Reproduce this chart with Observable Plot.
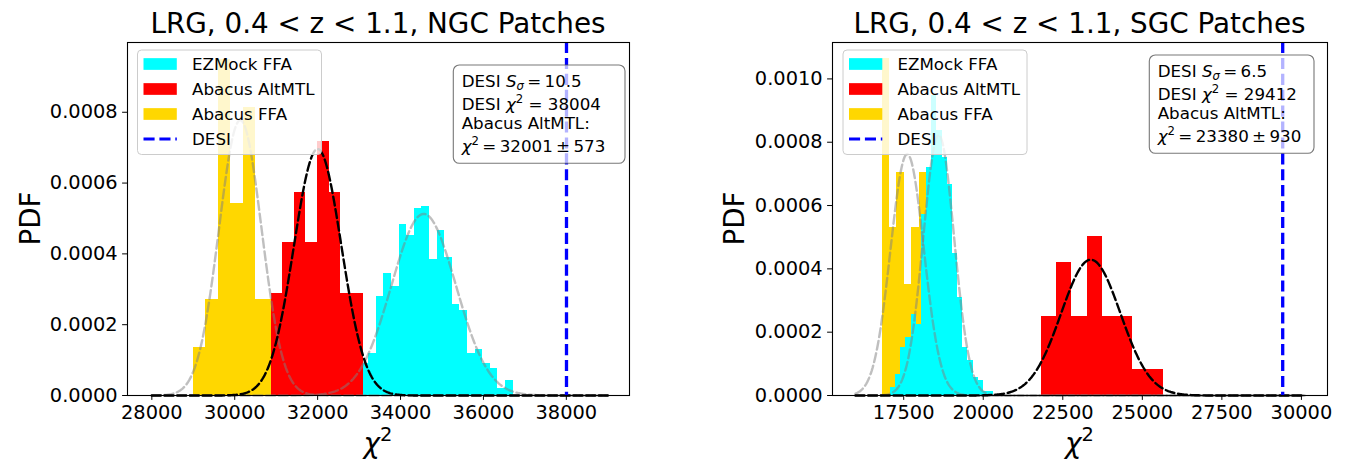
<!DOCTYPE html>
<html><head><meta charset="utf-8">
<script src="https://cdn.jsdelivr.net/npm/d3@7"></script>
<script src="https://cdn.jsdelivr.net/npm/@observablehq/plot@0.6"></script>
<style>
body{margin:0;background:#fff;}
#wrap{display:flex;width:1346px;height:463px;overflow:hidden;}
svg{display:block;}
</style></head><body><div id="wrap"></div>
<script>
// ---------- colours ----------
const CYAN = "#00FFFF", RED = "#FF0000", GOLD = "#FFD700", BLUE = "#0000FF";

// ---------- NGC panel ----------
const ngcTitle = "LRG, 0.4 < z < 1.1, NGC Patches";
const ngcXTicks = [28000, 30000, 32000, 34000, 36000, 38000];
const ngcYTicks = [0, 0.0002, 0.0004, 0.0006, 0.0008];
const ngcFfaEdges = [29007, 29306, 29605, 29904, 30203, 30502, 30801, 31100];
const ngcFfaDensity = [0.000136, 0.000271, 0.00095, 0.000543, 0.000814, 0.000271, 0.000271];
const ngcEzEdges = [33047, 33231, 33414, 33598, 33781, 33965, 34148, 34332, 34515, 34699, 34882, 35066, 35249, 35433, 35616, 35800, 35983, 36167, 36350, 36534, 36717];
const ngcEzDensity = [0.0000912, 0.000118, 0.00028, 0.000344, 0.000308, 0.000483, 0.000452, 0.000527, 0.000534, 0.000384, 0.000466, 0.000389, 0.000257, 0.00024, 0.000118, 0.000129, 0.0000896, 0.0000754, 0.0000189, 0.0000424];
const ngcAltEdges = [30882, 31161, 31439, 31718, 31996, 32275, 32553, 32832, 33110];
const ngcAltDensity = [0.000287, 0.000431, 0.000574, 0.000431, 0.000718, 0.000574, 0.000287, 0.000287];
// gaussian fits: [Abacus FFA, EZMock FFA, Abacus AltMTL]
const ngcFitMean = [30134, 34559, 32001];
const ngcFitSigma = [513, 778, 573];
const ngcFitRange = [28000, 39000];
const ngcDesi = 38004;
const ngcBoxLines = ["10.5", "38004", "32001", "573"];

// ---------- SGC panel ----------
const sgcTitle = "LRG, 0.4 < z < 1.1, SGC Patches";
const sgcXTicks = [17500, 20000, 22500, 25000, 27500, 30000];
const sgcYTicks = [0, 0.0002, 0.0004, 0.0006, 0.0008, 0.0010];
const sgcFfaEdges = [16824, 17054, 17283, 17516, 17755, 17988, 18217];
const sgcFfaDensity = [0.001064, 0.000531, 0.000705, 0.000352, 0.000531, 0.000705];
const sgcEzEdges = [17082, 17245, 17407, 17570, 17732, 17895, 18057, 18220, 18382, 18545, 18707, 18870, 19032, 19195, 19357, 19520, 19682, 19845, 20007, 20170, 20332];
const sgcEzDensity = [0.0000247, 0.000067, 0.000151, 0.000183, 0.000257, 0.000225, 0.000573, 0.000721, 0.000948, 0.000837, 0.000753, 0.000668, 0.000447, 0.00031, 0.000151, 0.000109, 0.0000563, 0.0000459, 0.0000142, 0.0000142];
const sgcAltEdges = [21831, 22309, 22787, 23265, 23743, 24221, 24699, 25177, 25655];
const sgcAltDensity = [0.000251, 0.000419, 0.000251, 0.000502, 0.000251, 0.000251, 0.0000837, 0.0000837];
const sgcFitMean = [17610, 18600, 23380];
const sgcFitSigma = [523, 485, 930];
const sgcFitRange = [15985, 30100];
const sgcDesi = 29412;
const sgcBoxLines = ["6.5", "29412", "23380", "930"];

const legendLabels = ["EZMock FFA", "Abacus AltMTL", "Abacus FFA", "DESI"];
const legendColors = [CYAN, RED, GOLD, BLUE];

// ---------- helpers ----------
const toRows = (edges, dens) => dens.map((h, i) => ({x1: edges[i], x2: edges[i + 1], h}));
function gaussCurve(m, s, range) {
  const n = 500;
  return d3.range(n + 1).map(i => {
    const x = range[0] + (range[1] - range[0]) * i / n;
    return {x, y: Math.exp(-0.5 * ((x - m) / s) ** 2) / (s * Math.sqrt(2 * Math.PI))};
  });
}
function richText(parent, x, y, size, parts, anchor) {
  const t = parent.append("text").attr("x", x).attr("y", y).attr("font-size", size)
    .attr("text-anchor", anchor || "start").attr("fill", "black");
  let shift = 0;
  for (const p of parts) {
    const sp = t.append("tspan");
    let target = 0, fs = size;
    if (p.sub) { target = 0.22 * size; fs = 0.7 * size; }
    if (p.sup) { target = -0.42 * size; fs = 0.7 * size; }
    sp.attr("dy", target - shift).attr("font-size", fs);
    if (p.it) sp.attr("font-style", "italic");
    sp.text(p.t);
    shift = target;
  }
  return t;
}

function makePanel(o) {
  const dash = "8.9,3.8";
  const svg = Plot.plot({
    width: o.width, height: 463,
    marginLeft: o.ml, marginRight: o.mr, marginTop: 42, marginBottom: 68,
    style: {fontFamily: "DejaVu Sans", fontSize: "19.4px", color: "black", background: "white", overflow: "visible"},
    x: {domain: o.xDomain, label: null},
    y: {domain: o.yDomain, label: null},
    marks: [
      Plot.rectY(toRows(o.ffaEdges, o.ffaDens), {x1: "x1", x2: "x2", y: "h", fill: GOLD, shapeRendering: "crispEdges"}),
      Plot.rectY(toRows(o.ezEdges, o.ezDens), {x1: "x1", x2: "x2", y: "h", fill: CYAN, shapeRendering: "crispEdges"}),
      Plot.rectY(toRows(o.altEdges, o.altDens), {x1: "x1", x2: "x2", y: "h", fill: RED, shapeRendering: "crispEdges"}),
      Plot.line(gaussCurve(o.mean[0], o.sigma[0], o.range), {x: "x", y: "y", stroke: "gray", strokeOpacity: 0.5, strokeWidth: 2.4, strokeDasharray: dash}),
      Plot.line(gaussCurve(o.mean[1], o.sigma[1], o.range), {x: "x", y: "y", stroke: "gray", strokeOpacity: 0.5, strokeWidth: 2.4, strokeDasharray: dash}),
      Plot.line(gaussCurve(o.mean[2], o.sigma[2], o.range), {x: "x", y: "y", stroke: "black", strokeWidth: 2.4, strokeDasharray: dash}),
      Plot.ruleX([o.desi], {stroke: BLUE, strokeWidth: 3.3, strokeDasharray: "11.1,4.8"}),
      Plot.frame({stroke: "black", strokeWidth: 1.1}),
      Plot.axisX(o.xTicks, {tickFormat: d3.format("d"), tickSize: 4.9, tickPadding: 4.9, fontSize: 19.4, label: null}),
      Plot.axisY(o.yTicks, {tickFormat: d3.format(".4f"), tickSize: 4.9, tickPadding: 4.9, fontSize: 19.4, label: null})
    ]
  });
  const s = d3.select(svg);
  const g = s.append("g").attr("font-family", "DejaVu Sans").attr("text-anchor", "start");
  const fx0 = o.ml, fx1 = o.width - o.mr, cx = (fx0 + fx1) / 2;
  // title
  g.append("text").attr("x", cx).attr("y", 33).attr("text-anchor", "middle").attr("font-size", 27.8).attr("fill", "black").text(o.title);
  // axis labels
  g.append("text").attr("transform", `translate(${o.ylabX},218.5) rotate(-90)`).attr("text-anchor", "middle")
    .attr("font-size", 27.8).attr("fill", "black").text("PDF");
  richText(g, cx, 453, 27.8, [{t: "χ", it: true}, {t: "2", sup: true}], "middle");
  // legend
  const lx = o.legX, ly = 50;
  g.append("rect").attr("x", lx).attr("y", ly).attr("width", 184).attr("height", 104.5).attr("rx", 4)
    .attr("fill", "white").attr("fill-opacity", 0.8).attr("stroke", "#cccccc").attr("stroke-width", 1);
  const rows = [64, 89, 114, 139];
  legendLabels.forEach((lab, i) => {
    if (i < 3) {
      g.append("rect").attr("x", lx + 6).attr("y", rows[i] - 5.85).attr("width", 33.3).attr("height", 11.7).attr("fill", legendColors[i]);
    } else {
      g.append("line").attr("x1", lx + 6).attr("x2", lx + 39.3).attr("y1", rows[i]).attr("y2", rows[i])
        .attr("stroke", BLUE).attr("stroke-width", 3).attr("stroke-dasharray", "11.1,4.8");
    }
    g.append("text").attr("x", lx + 54.5).attr("y", rows[i]).attr("dy", "0.36em").attr("text-anchor", "start")
      .attr("font-size", 16.7).attr("fill", "black").text(lab);
  });
  // text box
  const b = o.box;
  g.append("rect").attr("x", b.x).attr("y", b.y).attr("width", b.w).attr("height", 98.3).attr("rx", 6)
    .attr("fill", "white").attr("fill-opacity", 0.7).attr("stroke", "#555").attr("stroke-opacity", 0.8).attr("stroke-width", 1.1);
  const tx = b.x + 8.4, fs = 16.7, L = o.boxLines, th = "\u2009";
  richText(g, tx, b.y + 21.7, fs, [{t: "DESI "}, {t: "S", it: true}, {t: "σ", it: true, sub: true}, {t: th + "=" + th + L[0]}]);
  richText(g, tx, b.y + 45.3, fs, [{t: "DESI "}, {t: "χ", it: true}, {t: "2", sup: true}, {t: " = " + L[1]}]);
  richText(g, tx, b.y + 64.2, fs, [{t: "Abacus AltMTL:"}]);
  richText(g, tx, b.y + 86.7, fs, [{t: "χ", it: true}, {t: "2", sup: true}, {t: th + "=" + th + L[2] + th + "±" + th + L[3]}]);
  return svg;
}

const wrap = document.getElementById("wrap");
wrap.appendChild(makePanel({
  width: 673, ml: 127, mr: 44, xDomain: [27413, 39524], yDomain: [0, 0.000997],
  xTicks: ngcXTicks, yTicks: ngcYTicks, title: ngcTitle,
  ffaEdges: ngcFfaEdges, ffaDens: ngcFfaDensity, ezEdges: ngcEzEdges, ezDens: ngcEzDensity,
  altEdges: ngcAltEdges, altDens: ngcAltDensity,
  mean: ngcFitMean, sigma: ngcFitSigma, range: ngcFitRange, desi: ngcDesi,
  ylabX: 40, legX: 137.5, box: {x: 453.3, y: 65, w: 171.7}, boxLines: ngcBoxLines
}));
wrap.appendChild(makePanel({
  width: 673, ml: 159, mr: 19, xDomain: [15262, 30820], yDomain: [0, 0.001115],
  xTicks: sgcXTicks, yTicks: sgcYTicks, title: sgcTitle,
  ffaEdges: sgcFfaEdges, ffaDens: sgcFfaDensity, ezEdges: sgcEzEdges, ezDens: sgcEzDensity,
  altEdges: sgcAltEdges, altDens: sgcAltDensity,
  mean: sgcFitMean, sigma: sgcFitSigma, range: sgcFitRange, desi: sgcDesi,
  ylabX: 71, legX: 170, box: {x: 476.3, y: 55, w: 164.7}, boxLines: sgcBoxLines
}));
</script></body></html>
